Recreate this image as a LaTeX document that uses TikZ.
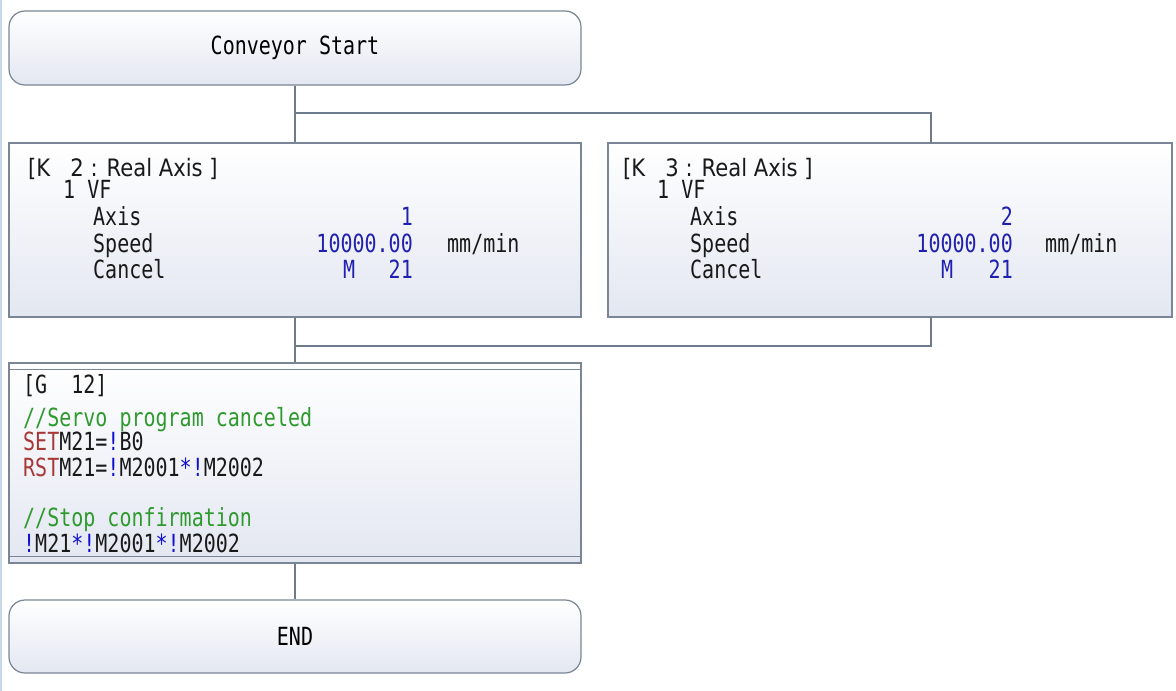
\documentclass[tikz,border=0pt]{standalone}
\usepackage{fontspec}
\newfontfamily\mono[FakeStretch=0.8]{DejaVu Sans Mono}
\newfontfamily\psans[FakeStretch=0.88]{DejaVu Sans}
\definecolor{edge}{HTML}{7A8696}
\definecolor{conncol}{HTML}{6E7B8B}
\definecolor{boxbot}{HTML}{E3E7F1}
\definecolor{valblue}{HTML}{2020B0}
\definecolor{opblue}{HTML}{1010D0}
\definecolor{kwred}{HTML}{A83838}
\definecolor{cmtgreen}{HTML}{2E9A2E}
\definecolor{leftbar}{HTML}{C8D8EC}
\begin{document}
\begin{tikzpicture}[x=1pt,y=-1pt,
  termbox/.style={draw=edge, line width=1.2pt, rounded corners=16pt, top color=white, bottom color=boxbot, minimum width=572pt, minimum height=74pt, inner sep=0pt, text=black, font=\mono\fontsize{25}{25}\selectfont},
  stepbox/.style={draw=edge, line width=1.2pt, top color=white, bottom color=boxbot, inner sep=0pt},
  conn/.style={draw=conncol, line width=1.4pt},
  txt/.style={anchor=base west, inner sep=0pt, font=\mono\fontsize{25}{25}\selectfont, text=black!90},
  htxt/.style={anchor=base west, inner sep=0pt, font=\psans\fontsize{24}{24}\selectfont, text=black!90},
  val/.style={anchor=base east, inner sep=0pt, font=\mono\fontsize{25}{25}\selectfont, text=valblue},
  valw/.style={anchor=base west, inner sep=0pt, font=\mono\fontsize{25}{25}\selectfont, text=valblue}
]
\useasboundingbox (0,0) rectangle (1176,691);
\fill[white] (0,0) rectangle (1176,691);
\draw[leftbar, line width=2pt] (1,0) -- (1,691);

% boxes
\node[termbox] (start) at (295,48) {Conveyor Start};
\node[stepbox, minimum width=572pt, minimum height=174pt] (k2) at (295,230) {};
\node[stepbox, minimum width=564pt, minimum height=174pt] (k3) at (890,230) {};
\node[stepbox, minimum width=572pt, minimum height=200pt] (g) at (295,463) {};
\draw[edge, line width=1.2pt] ([yshift=-7pt]g.north west) -- ([yshift=-7pt]g.north east);
\draw[edge, line width=1.2pt] ([yshift=7pt]g.south west) -- ([yshift=7pt]g.south east);
\node[termbox, minimum height=73pt] (end) at (295,636.5) {END};

% connectors
\coordinate (j1) at (295,113);
\coordinate (k3in) at (931,143);
\coordinate (k3out) at (931,317);
\coordinate (j2) at (295,346);
\draw[conn] (start.south) -- (k2.north);
\draw[conn] (j1) -| (k3in);
\draw[conn] (k2.south) -- (g.north);
\draw[conn] (k3out) |- (j2);
\draw[conn] (g.south) -- (end.north);

% K2 text
\node[htxt] (k2h) at (28,176) {[K\ \ \ 2 : Real Axis ]};
\node[txt] (k2a) at (63,198) {1 VF};
\node[txt] (k2b) at (93,225) {Axis};
\node[txt] (k2c) at (93,252) {Speed};
\node[txt] (k2d) at (93,278) {Cancel};
\node[val] (k2v1) at (413,225) {1};
\node[val] (k2v2) at (413,252) {10000.00};
\node[valw] (k2v3) at (343,278) {M};
\node[val] (k2v4) at (413,278) {21};
\node[txt] (k2u) at (447,252) {mm/min};

% K3 text
\node[htxt] (k3h) at (623,176) {[K\ \ \ 3 : Real Axis ]};
\node[txt] (k3a) at (657,198) {1 VF};
\node[txt] (k3b) at (690,225) {Axis};
\node[txt] (k3c) at (690,252) {Speed};
\node[txt] (k3d) at (690,278) {Cancel};
\node[val] (k3v1) at (1013,225) {2};
\node[val] (k3v2) at (1013,252) {10000.00};
\node[valw] (k3v3) at (941,278) {M};
\node[val] (k3v4) at (1013,278) {21};
\node[txt] (k3u) at (1045,252) {mm/min};

% G text
\node[txt] (g1) at (23,393) {[G\ \ 12]};
\node[txt, text=cmtgreen] (g2) at (23,426) {//Servo program canceled};
\node[txt] (g3) at (23,450) {\textcolor{kwred}{SET}M21=\textcolor{opblue}{!}B0};
\node[txt] (g4) at (23,476) {\textcolor{kwred}{RST}M21=\textcolor{opblue}{!}M2001\textcolor{opblue}{*!}M2002};
\node[txt, text=cmtgreen] (g5) at (23,526) {//Stop confirmation};
\node[txt] (g6) at (23,552) {\textcolor{opblue}{!}M21\textcolor{opblue}{*!}M2001\textcolor{opblue}{*!}M2002};
\end{tikzpicture}
\end{document}
